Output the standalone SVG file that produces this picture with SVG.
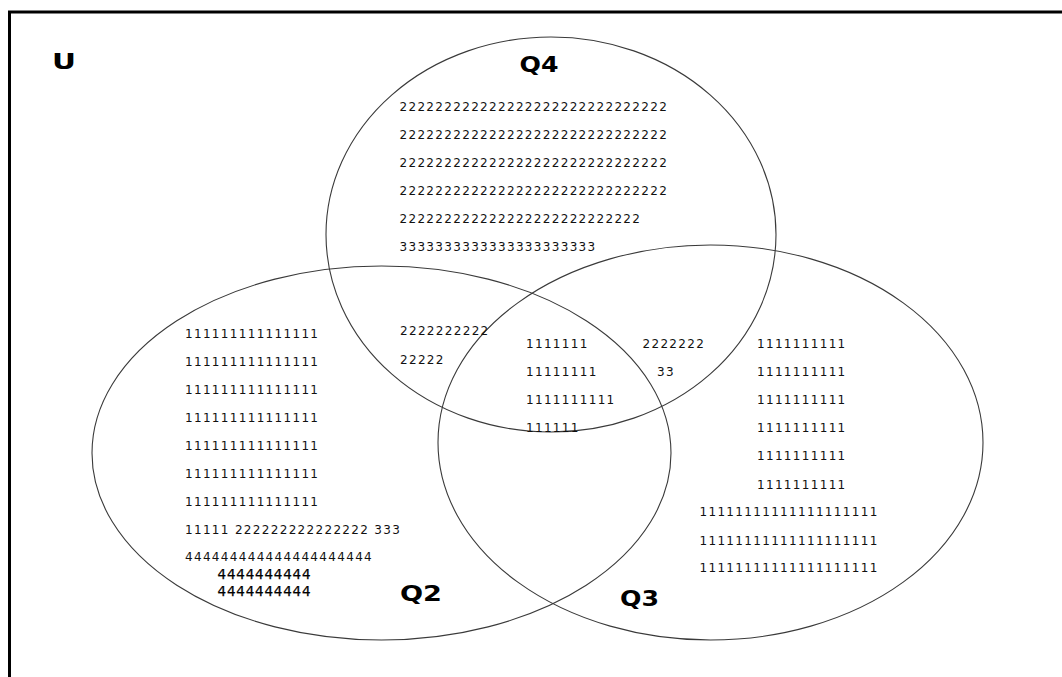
<svg xmlns="http://www.w3.org/2000/svg" width="1062" height="677" viewBox="0 0 1062 677">
<style>
.set{fill:none;stroke:#3a3a3a;stroke-width:1.1}
.t{font-family:"DejaVu Sans",Verdana,sans-serif;font-size:12px;letter-spacing:1.32px;fill:#111}
.t4{font-family:"DejaVu Sans",Verdana,sans-serif;font-size:13.5px;letter-spacing:0.8px;fill:#000;stroke:#000;stroke-width:0.25}
.lbl{font-family:"DejaVu Sans",Verdana,sans-serif;font-size:22px;font-weight:bold;fill:#000}
</style>
<rect width="1062" height="677" fill="#fff"/>
<g id="frame">
<line x1="8" y1="12" x2="1062" y2="12" stroke="#000" stroke-width="3"/>
<line x1="9.5" y1="11" x2="9.5" y2="677" stroke="#000" stroke-width="3"/>
<text class="lbl" x="52" y="69" textLength="24" lengthAdjust="spacingAndGlyphs">U</text>
</g>
<g id="Q4">
<ellipse class="set" cx="551" cy="234.5" rx="225" ry="197.5"/>
<text class="lbl" x="519.5" y="72" textLength="39" lengthAdjust="spacingAndGlyphs">Q4</text>
</g>
<g id="Q2">
<ellipse class="set" cx="381.5" cy="453" rx="289.5" ry="187"/>
<text class="lbl" x="400" y="601" textLength="42" lengthAdjust="spacingAndGlyphs">Q2</text>
</g>
<g id="Q3">
<ellipse class="set" cx="710.5" cy="442.5" rx="272.5" ry="197.5"/>
<text class="lbl" x="620" y="606" textLength="39" lengthAdjust="spacingAndGlyphs">Q3</text>
</g>
<g id="connectors"></g>
<g id="q4-only">
<text class="t" x="399.5" y="111">222222222222222222222222222222</text>
<text class="t" x="399.5" y="139">222222222222222222222222222222</text>
<text class="t" x="399.5" y="167">222222222222222222222222222222</text>
<text class="t" x="399.5" y="195">222222222222222222222222222222</text>
<text class="t" x="399.5" y="223">222222222222222222222222222</text>
<text class="t" x="399.5" y="251">3333333333333333333333</text>
</g>
<g id="q2-only">
<text class="t" x="185" y="337.5">111111111111111</text>
<text class="t" x="185" y="365.5">111111111111111</text>
<text class="t" x="185" y="393.5">111111111111111</text>
<text class="t" x="185" y="421.5">111111111111111</text>
<text class="t" x="185" y="449.5">111111111111111</text>
<text class="t" x="185" y="477.5">111111111111111</text>
<text class="t" x="185" y="505.5">111111111111111</text>
<text class="t" x="185" y="533.5">11111 222222222222222 333</text>
<text class="t" x="185" y="561">444444444444444444444</text>
<text class="t4" x="217.5" y="578.5">4444444444</text>
<text class="t4" x="217.5" y="596">4444444444</text>
</g>
<g id="q2-q4">
<text class="t" x="400" y="335">2222222222</text>
<text class="t" x="400" y="364">22222</text>
</g>
<g id="q2-q3-q4">
<text class="t" x="526" y="347.5">1111111</text>
<text class="t" x="526" y="376">11111111</text>
<text class="t" x="526" y="403.5">1111111111</text>
<text class="t" x="526" y="432">111111</text>
</g>
<g id="q3-q4">
<text class="t" x="642.5" y="347.5">2222222</text>
<text class="t" x="657" y="376">33</text>
</g>
<g id="q3-only">
<text class="t" x="757" y="347.5">1111111111</text>
<text class="t" x="757" y="376">1111111111</text>
<text class="t" x="757" y="404">1111111111</text>
<text class="t" x="757" y="432">1111111111</text>
<text class="t" x="757" y="460">1111111111</text>
<text class="t" x="757" y="488.5">1111111111</text>
<text class="t" x="699.5" y="516">11111111111111111111</text>
<text class="t" x="699.5" y="544.5">11111111111111111111</text>
<text class="t" x="699.5" y="572">11111111111111111111</text>
</g>
</svg>
